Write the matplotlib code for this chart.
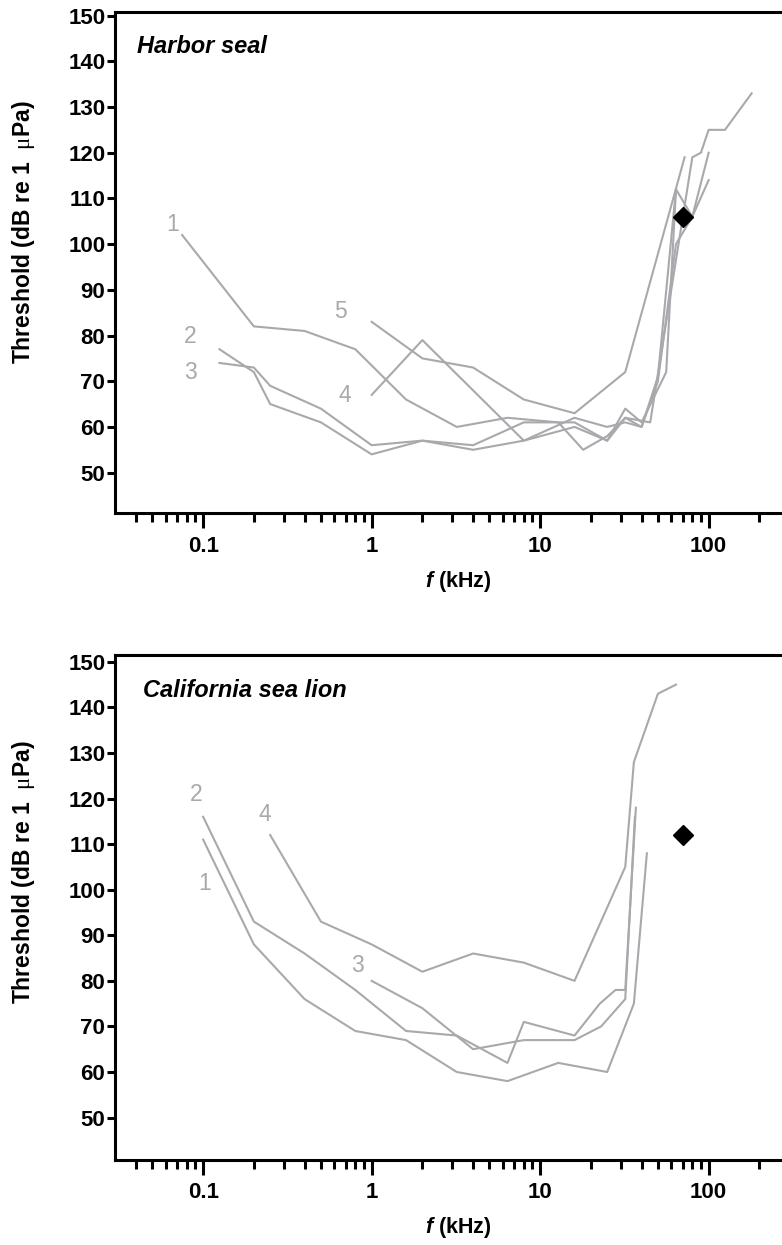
import matplotlib
matplotlib.use('Agg')
import matplotlib.pyplot as plt
from matplotlib.ticker import FixedLocator, NullFormatter

plt.rcParams['font.family'] = 'Liberation Sans'
plt.rcParams['mathtext.fontset'] = 'custom'
plt.rcParams['mathtext.it'] = 'Liberation Sans:italic:bold'
plt.rcParams['mathtext.rm'] = 'Liberation Serif'

# --- harbor seal audiograms (kHz, dB) ---
seal_f1 = [0.075, 0.2, 0.4, 0.8, 1.6, 3.2, 6.4, 12.8, 18, 25, 32, 40, 50, 64, 80, 100]
seal_t1 = [102, 82, 81, 77, 66, 60, 62, 61, 55, 58, 62, 60, 70, 100, 106, 120]
seal_f2 = [0.125, 0.2, 0.25, 0.5, 1, 2, 4, 8, 16, 25, 32, 40, 56, 64, 80, 100]
seal_t2 = [77, 72, 65, 61, 54, 57, 55, 57, 60, 57, 64, 61, 72, 112, 106, 114]
seal_f3 = [0.125, 0.2, 0.25, 0.5, 1, 2, 4, 8, 16, 25, 32, 45, 80, 90, 100, 125, 180]
seal_t3 = [74, 73, 69, 64, 56, 57, 56, 61, 61, 57, 62, 61, 119, 120, 125, 125, 133]
seal_f4 = [1, 2, 8, 16, 25, 32, 40, 50, 64]
seal_t4 = [67, 79, 57, 62, 60, 61, 60, 71, 112]
seal_f5 = [1, 2, 4, 8, 16, 32, 72]
seal_t5 = [83, 75, 73, 66, 63, 72, 119]
seal_ids = ['1', '2', '3', '4', '5']
seal_marker = (70, 106)

# --- California sea lion audiograms ---
lion_f1 = [0.1, 0.2, 0.4, 0.8, 1.6, 3.2, 6.4, 12.8, 25, 36, 43]
lion_t1 = [111, 88, 76, 69, 67, 60, 58, 62, 60, 75, 108]
lion_f2 = [0.1, 0.2, 0.4, 0.8, 1.6, 3.2, 6.4, 8, 16, 22.6, 28, 32, 37]
lion_t2 = [116, 93, 86, 78, 69, 68, 62, 71, 68, 75, 78, 78, 118]
lion_f3 = [1, 2, 4, 8, 16, 23, 32, 36.5]
lion_t3 = [80, 74, 65, 67, 67, 70, 76, 116]
lion_f4 = [0.25, 0.5, 1, 2, 4, 8, 16, 32, 36, 50, 64]
lion_t4 = [112, 93, 88, 82, 86, 84, 80, 105, 128, 143, 145]
lion_ids = ['1', '2', '3', '4']
lion_marker = (70, 112)

yticks = [50, 60, 70, 80, 90, 100, 110, 120, 130, 140, 150]
xmajor = [0.1, 1, 10, 100]
xmajor_labels = ['0.1', '1', '10', '100']

GRAY = '#a8a9ac'
PX = 0.72  # pixels -> points at 100 dpi

fig = plt.figure(figsize=(7.82, 12.45), dpi=100)


def panel(rect, curves, ids, offsets, marker, title, title_xy, ylim):
    ax = fig.add_axes(rect)
    ax.set_xscale('log')
    ax.set_xlim(0.03, 300)
    ax.set_ylim(*ylim)
    for (f, t), lbl, (dx, dy) in zip(curves, ids, offsets):
        ax.plot(f, t, color=GRAY, lw=1.5)
        ax.annotate(lbl, xy=(f[0], t[0]), xytext=(dx * PX, dy * PX),
                    textcoords='offset points', ha='center', va='center',
                    color=GRAY, fontsize=16.5)
    ax.plot([marker[0]], [marker[1]], marker='D', color='black', ms=10, ls='none')

    ax.text(title_xy[0], title_xy[1], title, transform=ax.transAxes,
            style='italic', weight='bold', fontsize=17, va='baseline')

    for s in ax.spines.values():
        s.set_linewidth(2.2)
    ax.xaxis.set_major_locator(FixedLocator(xmajor))
    ax.set_xticklabels(xmajor_labels)
    minors = [m * d for d in [0.01, 0.1, 1, 10] for m in range(2, 10)] + [200]
    minors = [m for m in minors if m > 0.035]
    ax.xaxis.set_minor_locator(FixedLocator(minors))
    ax.xaxis.set_minor_formatter(NullFormatter())
    ax.set_yticks(yticks)
    ax.tick_params(axis='x', which='major', direction='out', length=11, width=2.2,
                   labelsize=16, pad=5)
    ax.tick_params(axis='x', which='minor', direction='out', length=6.5, width=2.2)
    ax.tick_params(axis='y', which='major', direction='out', length=6, width=2.2,
                   labelsize=16, pad=1)
    for lab in ax.get_xticklabels() + ax.get_yticklabels():
        lab.set_fontweight('bold')
    return ax


seal_curves = [(seal_f1, seal_t1), (seal_f2, seal_t2), (seal_f3, seal_t3),
               (seal_f4, seal_t4), (seal_f5, seal_t5)]
seal_offsets = [(-9.4, 10), (-29, 12.7), (-29, -9.4), (-27, -1), (-31, 10)]
panel([0.1471, 0.5877, 0.8619, 0.4027], seal_curves, seal_ids, seal_offsets,
      seal_marker, 'Harbor seal', (0.033, 0.919), (41.1, 150.8))

lion_curves = [(lion_f1, lion_t1), (lion_f2, lion_t2), (lion_f3, lion_t3),
               (lion_f4, lion_t4)]
lion_offsets = [(1.7, -44), (-6.6, 22.7), (-13.9, 15.7), (-5, 21)]
panel([0.1471, 0.0683, 0.8619, 0.4056], lion_curves, lion_ids, lion_offsets,
      lion_marker, 'California sea lion', (0.042, 0.916), (40.7, 151.5))

ylab = r'Threshold (dB re 1  $\mathrm{\mu}$Pa)'
for yc in [1 - 232 / 1245, 1 - 872 / 1245]:
    fig.text(24 / 782, yc, ylab, rotation=90, ha='center', va='center',
             fontsize=16.5, fontweight='bold')
for yc in [1 - 582 / 1245, 1 - 1228 / 1245]:
    fig.text(458 / 782, yc, r'$f$ (kHz)', ha='center', va='center',
             fontsize=15.5, fontweight='bold')

fig.savefig('out.png', dpi=100)
